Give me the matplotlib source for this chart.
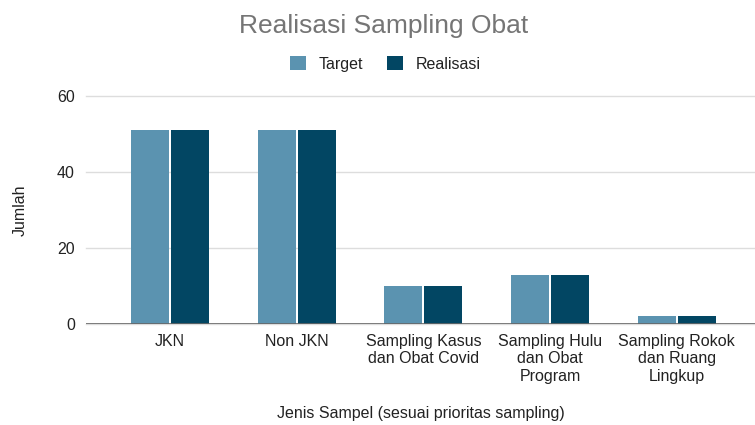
import matplotlib
matplotlib.use("Agg")
import matplotlib.pyplot as plt
import numpy as np

plt.rcParams['font.family'] = ['Liberation Sans', 'DejaVu Sans']

categories = ["JKN", "Non JKN", "Sampling Kasus\ndan Obat Covid", "Sampling Hulu\ndan Obat\nProgram", "Sampling Rokok\ndan Ruang\nLingkup"]
target = [51, 51, 10, 13, 2]
realisasi = [51, 51, 10, 13, 2]
yticks = [0, 20, 40, 60]

fig = plt.figure(figsize=(7.55, 4.25), dpi=100)
ax = fig.add_axes([86/755, (425-324)/425, 1 - 86/755, (324-96)/425])

x = np.arange(len(categories))
w = 0.30
ax.bar(x - w/2 - 0.008, target, width=w, color="#5b93b0", label="Target", zorder=3)
ax.bar(x + w/2 + 0.008, realisasi, width=w, color="#024663", label="Realisasi", zorder=3)

fs = 11.5
ax.set_xlim(-0.663, 4.617)
ax.set_ylim(0, 60)
ax.set_yticks(yticks)
ax.set_xticks(x)
ax.set_xticklabels(categories, fontsize=fs, color="#222222", linespacing=1.2, va="top")
ax.tick_params(axis='both', length=0, labelsize=fs, colors="#222222")
ax.tick_params(axis='y', pad=8)
ax.tick_params(axis='x', pad=7)
ax.grid(axis='y', color="#dddddd", linewidth=1, zorder=0, clip_on=False)
for s in ax.spines.values():
    s.set_visible(False)
ax.axhline(0, color="#666666", linewidth=1.2, zorder=4)

ax.set_xlabel("Jenis Sampel (sesuai prioritas sampling)", fontsize=fs, color="#222222", labelpad=16)
ax.set_ylabel("Jumlah", fontsize=fs, color="#222222", labelpad=21)

fig.text(0.508, 0.94, "Realisasi Sampling Obat", ha="center", va="center", fontsize=19, color="#757575")
leg = fig.legend(loc="center", bbox_to_anchor=(0.51, 0.85), ncol=2, frameon=False, fontsize=fs,
                 handlelength=1.0, handleheight=1.0, columnspacing=1.5, handletextpad=0.8)
for t in leg.get_texts():
    t.set_color("#222222")

fig.savefig("out.png", dpi=100)
